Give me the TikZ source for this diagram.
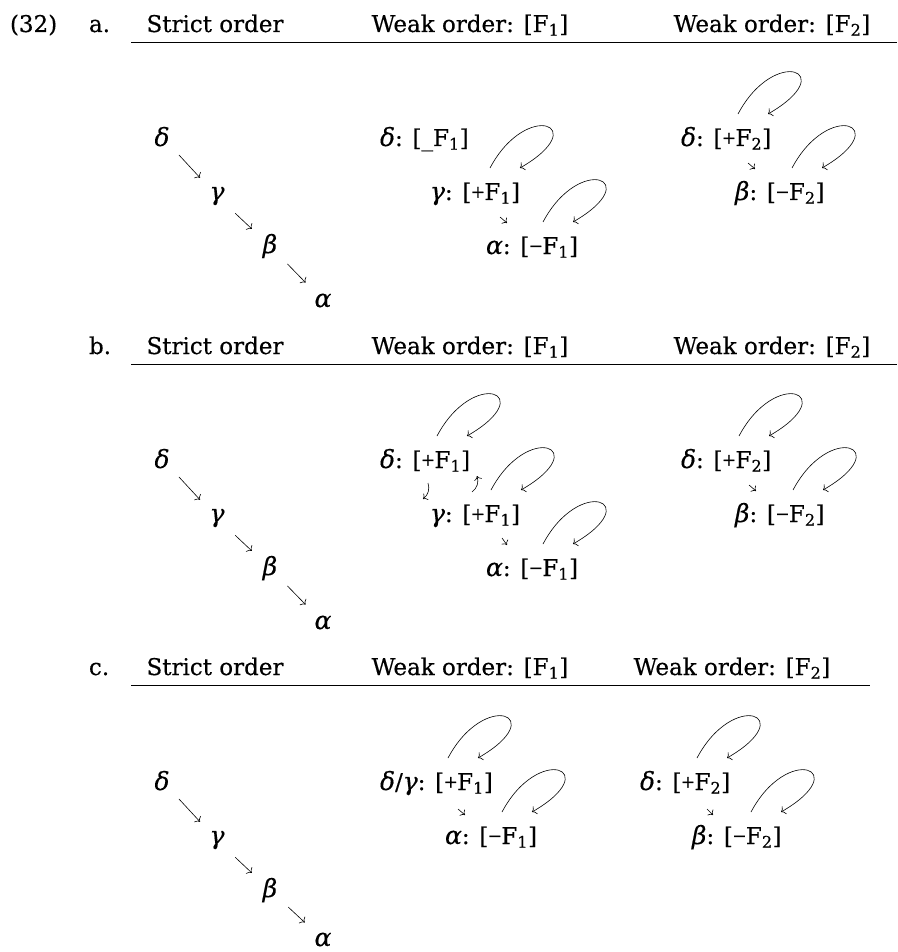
\documentclass[tikz,border=0pt]{standalone}
\usepackage{fontspec}
\setmainfont{DejaVu Serif}
\newfontfamily\pmfont{Liberation Serif}[FakeBold=0.6]
\usetikzlibrary{arrows.meta}
\newcommand{\fpl}{{\pmfont +}}
\newcommand{\fmi}{{\pmfont −}}
\newcommand{\gk}[1]{{\fontsize{25}{27}\selectfont\itshape\addfontfeatures{FakeBold=0.35}#1}}
\newcommand{\selfloop}[2]{\draw[selfloop] ([shift={(#2,32)}]#1.base west) to[out=62,in=30,out distance=78pt,in distance=85pt] ([shift={(#2+30,32)}]#1.base west);}

\begin{document}
\begin{tikzpicture}[x=1pt,y=1pt,
  every node/.style={inner sep=0pt, outer sep=0pt, font=\fontsize{23}{27}\selectfont\addfontfeatures{FakeBold=0.4}},
  lbl/.style={anchor=base west},
  hd/.style={anchor=base},
  gr/.style={anchor=base},
  ord/.style={-{To[length=4pt,width=9pt]}, line width=0.6pt, shorten <=25pt, shorten >=25pt},
  selfloop/.style={-{To[length=4pt,width=9pt]}, line width=0.6pt},
  tick/.style={-{To[length=4pt,width=8pt]}, line width=0.6pt},
  rule/.style={line width=0.9pt}]
\useasboundingbox (0,0) rectangle (897,-952);

\node[lbl] (ex) at (10,-32) {(32)};
\node[lbl] (la) at (89,-32) {a.};
\node[hd] (A0h) at (215,-32) {Strict order};
\node[hd] (A1h) at (470,-32) {Weak order: [F\textsubscript{1}]};
\node[hd] (A2h) at (772,-32) {Weak order: [F\textsubscript{2}]};
\draw[rule] (131,-42) -- (897,-42);

\node[gr] (A0d) at (162,-146) {\gk{δ}};
\node[gr] (A0g) at (217,-200) {\gk{γ}};
\node[gr] (A0b) at (270,-253) {\gk{β}};
\node[gr] (A0a) at (323,-307) {\gk{α}};
\draw[ord] (A0d.center) -- (A0g.center);
\draw[ord] (A0g.center) -- (A0b.center);
\draw[ord] (A0b.center) -- (A0a.center);

\node[lbl] (A1d) at (380,-146) {\gk{δ}: [\_F\textsubscript{1}]};
\node[lbl] (A1g) at (430,-200) {\gk{γ}: [\fpl F\textsubscript{1}]};
\node[lbl] (A1a) at (486,-254) {\gk{α}: [\fmi F\textsubscript{1}]};
\selfloop{A1g}{60}
\selfloop{A1a}{57}
\draw[tick] ([shift={(70,-17)}]A1g.base west) -- ([shift={(21,31)}]A1a.base west);

\node[lbl] (A2d) at (681,-146) {\gk{δ}: [\fpl F\textsubscript{2}]};
\node[lbl] (A2b) at (735,-200) {\gk{β}: [\fmi F\textsubscript{2}]};
\selfloop{A2d}{57}
\selfloop{A2b}{57}
\draw[tick] ([shift={(67,-17)}]A2d.base west) -- ([shift={(20,31)}]A2b.base west);

\node[lbl] (lb) at (89,-354) {b.};
\node[hd] (B0h) at (215,-354) {Strict order};
\node[hd] (B1h) at (470,-354) {Weak order: [F\textsubscript{1}]};
\node[hd] (B2h) at (772,-354) {Weak order: [F\textsubscript{2}]};
\draw[rule] (131,-364) -- (897,-364);

\node[gr] (B0d) at (162,-468) {\gk{δ}};
\node[gr] (B0g) at (217,-522) {\gk{γ}};
\node[gr] (B0b) at (270,-575) {\gk{β}};
\node[gr] (B0a) at (323,-629) {\gk{α}};
\draw[ord] (B0d.center) -- (B0g.center);
\draw[ord] (B0g.center) -- (B0b.center);
\draw[ord] (B0b.center) -- (B0a.center);

\node[lbl] (B1d) at (380,-468) {\gk{δ}: [\fpl F\textsubscript{1}]};
\node[lbl] (B1g) at (430,-522) {\gk{γ}: [\fpl F\textsubscript{1}]};
\node[lbl] (B1a) at (486,-576) {\gk{α}: [\fmi F\textsubscript{1}]};
\selfloop{B1d}{57}
\selfloop{B1g}{61}
\selfloop{B1a}{57}
\draw[tick] ([shift={(48,-15)}]B1d.base west) to[bend left=35] ([shift={(-7,23)}]B1g.base west);
\draw[tick] ([shift={(42,30)}]B1g.base west) to[bend right=35] ([shift={(97,-8)}]B1d.base west);
\draw[tick] ([shift={(72,-16)}]B1g.base west) -- ([shift={(21,31)}]B1a.base west);

\node[lbl] (B2d) at (681,-468) {\gk{δ}: [\fpl F\textsubscript{2}]};
\node[lbl] (B2b) at (735,-522) {\gk{β}: [\fmi F\textsubscript{2}]};
\selfloop{B2d}{58}
\selfloop{B2b}{58}
\draw[tick] ([shift={(68,-17)}]B2d.base west) -- ([shift={(21,31)}]B2b.base west);

\node[lbl] (lc) at (89,-675) {c.};
\node[hd] (C0h) at (215,-675) {Strict order};
\node[hd] (C1h) at (470,-675) {Weak order: [F\textsubscript{1}]};
\node[hd] (C2h) at (732,-675) {Weak order: [F\textsubscript{2}]};
\draw[rule] (131,-685) -- (870,-685);

\node[gr] (C0d) at (162,-790) {\gk{δ}};
\node[gr] (C0g) at (217,-844) {\gk{γ}};
\node[gr] (C0b) at (270,-897) {\gk{β}};
\node[gr] (C0a) at (323,-946) {\gk{α}};
\draw[ord] (C0d.center) -- (C0g.center);
\draw[ord] (C0g.center) -- (C0b.center);
\draw[ord] (C0b.center) -- (C0a.center);

\node[lbl] (C1d) at (380,-790) {\gk{δ}/\gk{γ}: [\fpl F\textsubscript{1}]};
\node[lbl] (C1a) at (445,-844) {\gk{α}: [\fmi F\textsubscript{1}]};
\selfloop{C1d}{68}
\selfloop{C1a}{57}
\draw[tick] ([shift={(78,-19)}]C1d.base west) -- ([shift={(20,29)}]C1a.base west);

\node[lbl] (C2d) at (640,-790) {\gk{δ}: [\fpl F\textsubscript{2}]};
\node[lbl] (C2b) at (692,-844) {\gk{β}: [\fmi F\textsubscript{2}]};
\selfloop{C2d}{57}
\selfloop{C2b}{59}
\draw[tick] ([shift={(67,-19)}]C2d.base west) -- ([shift={(21,29)}]C2b.base west);
\end{tikzpicture}
\end{document}
